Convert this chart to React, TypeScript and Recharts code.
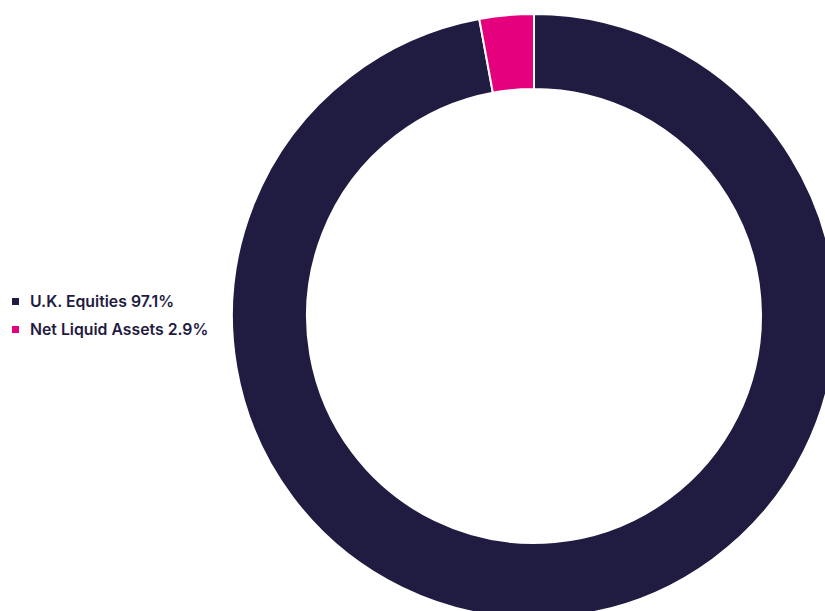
import { PieChart, Pie, Cell } from 'recharts';

const labels = ['U.K. Equities', 'Net Liquid Assets'];
const values = [97.1, 2.9];
const colors = ['#1f1b41', '#e5007d'];

const data = labels.map((name, i) => ({ name, value: values[i] }));

// legend drawn as plain HTML so the pie keeps its own position
function LegendList() {
  return (
    <ul style={{ position: 'absolute', left: 12, top: 287, listStyle: 'none', margin: 0, padding: 0 }}>
      {data.map((d, i) => (
        <li
          key={d.name}
          style={{
            display: 'flex',
            alignItems: 'center',
            height: 28,
            fontFamily: 'Inter, sans-serif',
            fontWeight: 600,
            fontSize: 15.8,
            color: '#1f1b41',
            whiteSpace: 'nowrap',
          }}
        >
          <span
            style={{
              display: 'inline-block',
              width: 7,
              height: 7,
              background: colors[i],
              marginRight: 11,
            }}
          />
          {d.name} {d.value}%
        </li>
      ))}
    </ul>
  );
}

export default function App() {
  return (
    <div style={{ position: 'absolute', left: 0, top: 0, width: 825, height: 611, overflow: 'hidden', background: '#fff' }}>
      <PieChart width={825} height={611} margin={{ top: 0, right: 0, bottom: 0, left: 0 }}>
        <Pie
          data={data}
          dataKey="value"
          nameKey="name"
          cx={534}
          cy={316}
          innerRadius={227}
          outerRadius={302}
          startAngle={90}
          endAngle={-270}
          stroke="#ffffff"
          strokeWidth={2}
          isAnimationActive={false}
        >
          {data.map((d, i) => (
            <Cell key={d.name} fill={colors[i]} />
          ))}
        </Pie>
      </PieChart>
      <LegendList />
    </div>
  );
}
